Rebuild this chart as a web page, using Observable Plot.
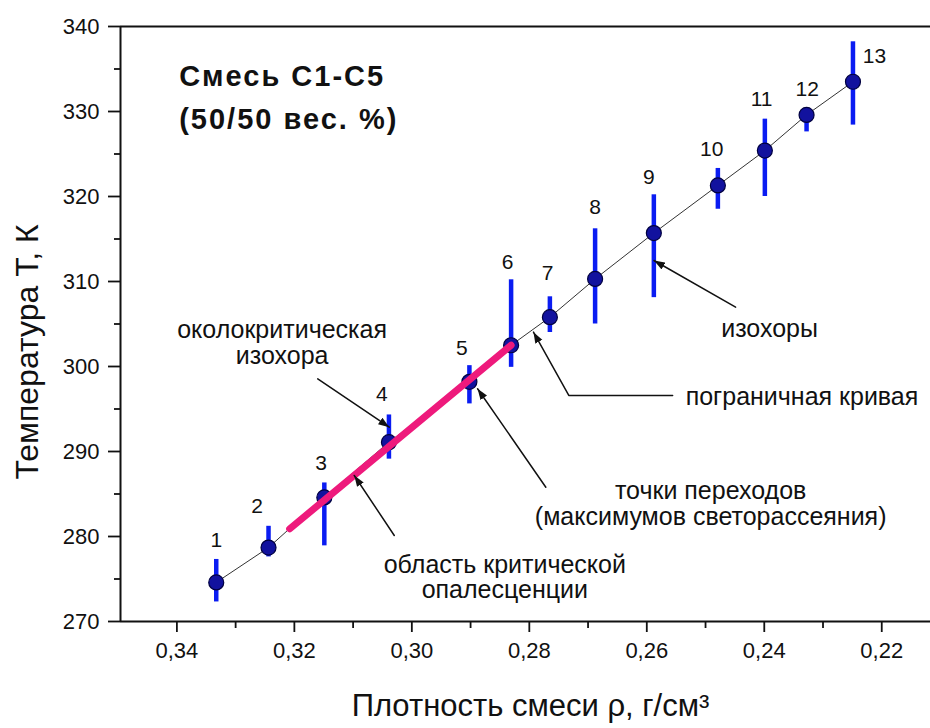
<!DOCTYPE html>
<html><head><meta charset="utf-8">
<script src="https://cdn.jsdelivr.net/npm/d3@7"></script>
<script src="https://cdn.jsdelivr.net/npm/@observablehq/plot@0.6"></script>
<style>
html,body{margin:0;padding:0;background:#fff;}
#chart svg{display:block;}
</style></head><body><div id="chart"></div>
<script>
// ---- data ----
const pointNo = ["1","2","3","4","5","6","7","8","9","10","11","12","13"];
const density = [0.3333, 0.3244, 0.3149, 0.3039, 0.2902, 0.2831, 0.2765, 0.2688, 0.2588, 0.2479, 0.2399, 0.2328, 0.2249];
const temperature = [274.6, 278.7, 284.6, 291.1, 298.2, 302.5, 305.8, 310.3, 315.7, 321.3, 325.4, 329.6, 333.5];
const errLow  = [272.3, 277.6, 278.9, 289.1, 295.6, 299.9, 304.0, 305.0, 308.1, 318.5, 320.0, 327.6, 328.4];
const errHigh = [277.3, 281.2, 286.3, 294.3, 300.1, 310.2, 308.2, 316.2, 320.2, 323.3, 329.1, 330.3, 338.2];
const labelDensity = [0.3333, 0.32634, 0.31546, 0.30509, 0.29148, 0.28371, 0.27690, 0.26881, 0.25963, 0.24896, 0.24046, 0.23269, 0.22125];
const labelTemperature = [279.53, 283.53, 288.59, 296.71, 302.12, 312.27, 310.91, 318.74, 322.27, 325.61, 331.41, 332.67, 336.47];

const criticalDensity = [0.3208, 0.2831];
const criticalTemperature = [280.9, 302.5];

const xDomain = [0.3496, 0.2117];
const yDomain = [270, 340];
const xTicks = [0.34, 0.32, 0.30, 0.28, 0.26, 0.24, 0.22];
const xMinorTicks = [0.33, 0.31, 0.29, 0.27, 0.25, 0.23];
const yTicks = [270, 280, 290, 300, 310, 320, 330, 340];
const yMinorTicks = [275, 285, 295, 305, 315, 325, 335];

const titleText = ["Смесь С1-С5\n(50/50 вес. %)"];
const titleDensity = [0.33961];
const titleTemperature = [332.1];

const noteText = ["околокритическая\nизохора", "область критической\nопалесценции", "точки переходов\n(максимумов светорассеяния)", "изохоры"];
const noteDensity = [0.32209, 0.28417, 0.24913, 0.2391];
const noteTemperature = [302.76, 275.18, 283.85, 304.44];

const boundaryText = ["пограничная кривая"];
const boundaryDensity = [0.25338];
const boundaryTemperature = [296.39];

const arrowId = ["a","a","b","b","c","c","d","d","d","e","e"];
const arrowDensity = [0.31602, 0.30384, 0.30299, 0.30980, 0.27719, 0.28881, 0.25560, 0.27328, 0.27929, 0.24488, 0.25878];
const arrowTemperature = [298.55, 292.86, 280.12, 287.18, 285.8, 297.38, 296.59, 296.59, 304.04, 306.98, 312.47];

const xTitle = "Плотность смеси ρ, г/см³";
const yTitle = "Температура Т, К";

// ---- tables ----
const points = density.map((d, i) => ({n: pointNo[i], rho: d, T: temperature[i], lo: errLow[i], hi: errHigh[i], lx: labelDensity[i], ly: labelTemperature[i]}));
const critical = criticalDensity.map((d, i) => ({rho: d, T: criticalTemperature[i]}));
const notes = noteText.map((t, i) => ({t, rho: noteDensity[i], T: noteTemperature[i]}));
const arrows = arrowId.map((id, i) => ({id, rho: arrowDensity[i], T: arrowTemperature[i]}));
const fmt = d => d.toFixed(2).replace(".", ",");
const ink = "#111";

const chart = Plot.plot({
  width: 930, height: 728,
  marginLeft: 120, marginRight: 0, marginTop: 26, marginBottom: 107,
  style: {fontFamily: "'Liberation Sans', Arial, Helvetica, sans-serif", background: "#fff", color: ink, overflow: "visible"},
  x: {domain: xDomain},
  y: {domain: yDomain},
  marks: [
    Plot.axisX(xMinorTicks, {tickSize: 7, strokeWidth: 1.8, tickFormat: () => "", label: null}),
    Plot.axisX(xTicks, {tickSize: 11, tickPadding: 10, strokeWidth: 1.8, fontSize: 22, tickFormat: fmt, label: null}),
    Plot.axisY(yMinorTicks, {tickSize: 6, strokeWidth: 1.8, tickFormat: () => "", label: null}),
    Plot.axisY(yTicks, {tickSize: 12, tickPadding: 9, strokeWidth: 1.8, fontSize: 22, tickFormat: d => String(d), label: null}),
    Plot.ruleY(yDomain, {stroke: ink, strokeWidth: 2}),
    Plot.ruleX([xDomain[0]], {stroke: ink, strokeWidth: 2}),
    Plot.line(points, {x: "rho", y: "T", stroke: "#333", strokeWidth: 1}),
    Plot.ruleX(points, {x: "rho", y1: "lo", y2: "hi", stroke: "#0a1cf2", strokeWidth: 4.5}),
    Plot.dot(points, {x: "rho", y: "T", r: 7.5, fill: "#12129e", stroke: "#000040", strokeWidth: 1.2}),
    Plot.line(critical, {x: "rho", y: "T", stroke: "#ee1a7c", strokeWidth: 7, strokeLinecap: "round"}),
    Plot.text(points, {x: "lx", y: "ly", text: "n", fontSize: 21, fill: ink}),
    Plot.line(arrows, {x: "rho", y: "T", z: "id", stroke: ink, strokeWidth: 1.5, markerEnd: "arrow"}),
    Plot.text(notes, {x: "rho", y: "T", text: "t", fontSize: 25, lineHeight: 1.02, fill: ink}),
    Plot.text(boundaryText, {x: () => boundaryDensity[0], y: () => boundaryTemperature[0], text: d => d, textAnchor: "start", fontSize: 25, fill: ink}),
    Plot.text(titleText, {x: () => titleDensity[0], y: () => titleTemperature[0], text: d => d, textAnchor: "start", fontSize: 29, fontWeight: "bold", lineHeight: 1.48, fill: ink}),
    Plot.text([xTitle], {frameAnchor: "bottom", dy: 94, dx: 5, fontSize: 31, fill: ink}),
    Plot.text([yTitle], {frameAnchor: "left", textAnchor: "middle", rotate: -90, dx: -93, dy: 28, fontSize: 32, fill: ink})
  ]
});

// filled arrowheads
chart.querySelectorAll("marker").forEach(m => {
  const c = m.getAttribute("stroke") || ink;
  m.setAttribute("viewBox", "-11 -4.5 12 9");
  m.setAttribute("markerWidth", "8");
  m.setAttribute("markerHeight", "6");
  m.setAttribute("fill", c);
  m.setAttribute("stroke", "none");
  const p = m.querySelector("path");
  if (p) { p.setAttribute("d", "M-11,-4L0,0L-11,4Z"); p.setAttribute("fill", c); p.setAttribute("stroke", "none"); }
});
chart.querySelectorAll("text").forEach(t => {
  if (t.textContent.includes("Смесь")) t.setAttribute("letter-spacing", "2");
});
document.getElementById("chart").appendChild(chart);
</script>
</body></html>
